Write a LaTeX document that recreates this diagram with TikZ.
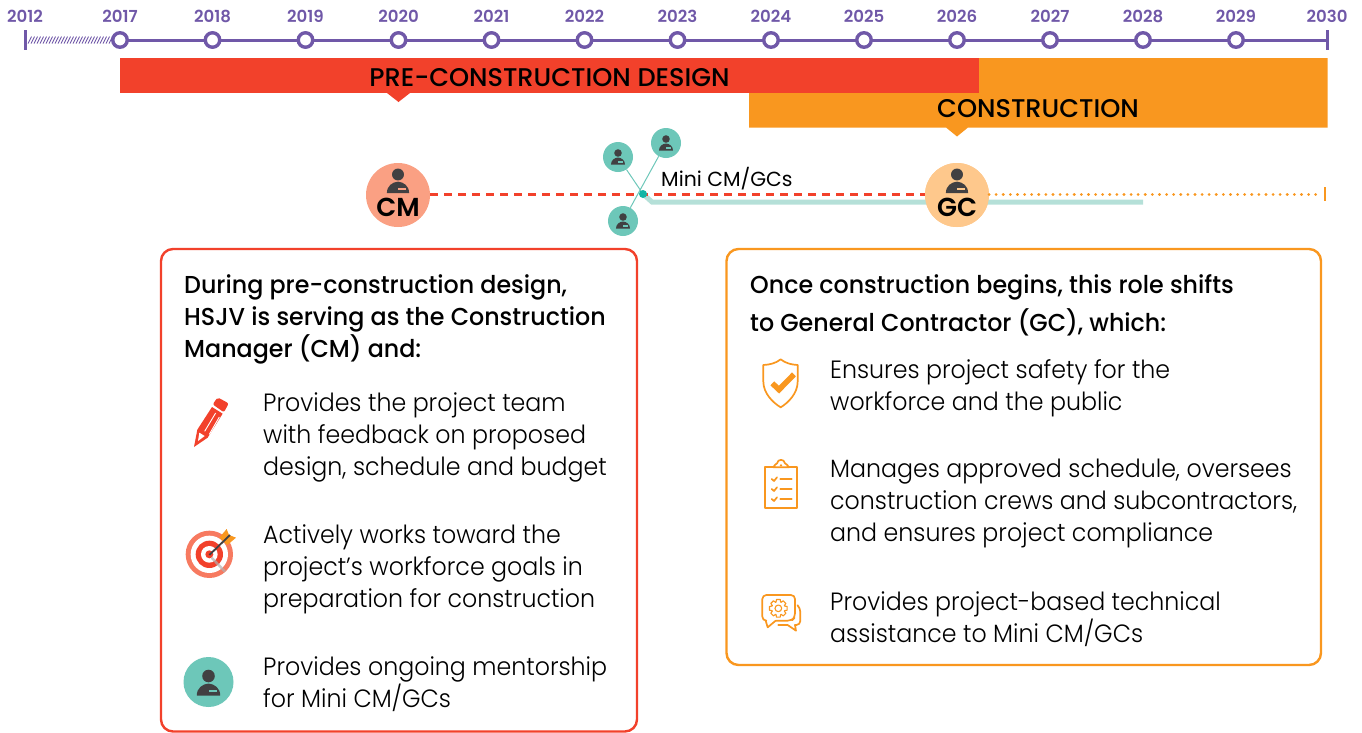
\documentclass[tikz,border=0pt]{standalone}
\usepackage{fontspec}
\setmainfont{Poppins Light}[BoldFont={Poppins Medium}]
\newfontfamily\yearfont{Poppins SemiBold}
\newfontfamily\barfont{Poppins Medium}
\newfontfamily\bodyfont[FakeStretch=0.948]{Poppins Light}
\newfontfamily\headfont[FakeStretch=0.97]{Poppins Medium}
\newfontfamily\minifont{Poppins}
\usetikzlibrary{calc}
\definecolor{tlpurple}{HTML}{7058A8}
\definecolor{redbar}{HTML}{F2412B}
\definecolor{orangebar}{HTML}{F9971F}
\definecolor{cmfill}{HTML}{FAA083}
\definecolor{gcfill}{HTML}{FEC88C}
\definecolor{tealc}{HTML}{6DC7B9}
\definecolor{tealbar}{HTML}{B5E0D8}
\definecolor{hubteal}{HTML}{12B5A5}
\definecolor{darkp}{HTML}{414042}
\tikzset{
  ring/.style={circle,draw=tlpurple,line width=3.4pt,fill=white,minimum size=14.5pt,inner sep=0},
  yearlabel/.style={font=\yearfont\fontsize{16.6}{16.6}\selectfont,text=tlpurple,anchor=center,inner sep=0},
  tline/.style={draw=tlpurple,line width=3pt},
  barlabel/.style={font=\barfont\fontsize{25.6}{25.6}\selectfont,text=black,anchor=center,inner sep=0},
  rolecirc/.style={circle,minimum size=64pt,inner sep=0},
  minicirc/.style={circle,fill=tealc,minimum size=30pt,inner sep=0},
  rolelabel/.style={font=\yearfont\fontsize{26}{26}\selectfont,text=black,inner sep=0,anchor=center},
  panel/.style={rounded corners=12pt,line width=2.4pt,fill=white},
  headtext/.style={anchor=north west,inner sep=0,align=left,font=\headfont\fontsize{24.5}{32}\selectfont,text=black},
  bodytext/.style={anchor=north west,inner sep=0,align=left,font=\bodyfont\fontsize{25}{32}\selectfont,text=black},
  iconline/.style={draw=orangebar,line width=1.7pt,line join=round,line cap=round},
  zoomthird/.style={scale=0.3333}
}
\newcommand{\personicon}[4]{%
  \begin{scope}[shift={(#1,#2)},scale=#3]
    \fill[darkp] (0,0) circle[radius=6.3];
    \fill[darkp] (-11.7,19.5) .. controls (-11.7,12) and (-6,8) .. (0,7.5) .. controls (6,8) and (11.7,12) .. (11.7,19.5) -- cycle;
    \fill[#4] (0,14) rectangle (8,16);
  \end{scope}}
\begin{document}
\begin{tikzpicture}[x=1pt,y=-1pt]
\useasboundingbox (0,0) rectangle (1362,732);
% bars
\fill[orangebar] (749,93) -- (979,93) -- (979,58) -- (1327.5,58) -- (1327.5,127.5) -- (968,127.5) -- (957,136.5) -- (946,127.5) -- (749,127.5) -- cycle;
\fill[redbar] (119.5,58) rectangle (979,93);
\fill[redbar] (387,93) -- (398.5,102) -- (410,93) -- cycle;
\node[barlabel] (predesign) at (549.5,77.5) {PRE-CONSTRUCTION DESIGN};
\node[barlabel] (constr) at (1038,108.5) {CONSTRUCTION};
% timeline
\coordinate (tstart) at (25,40);
\coordinate (tend) at (1327,40);
\coordinate (hatchend) at (112,40);
\foreach \xx in {28,31,...,109}{\draw[tlpurple,line width=0.9pt] (\xx,43.5) -- (\xx+3.5,36.5);}
\draw[tlpurple,line width=3pt] (25,30) -- (25,50);
\draw[tlpurple,line width=3pt] (1327,30) -- (1327,50);
\draw[tline] (120,40) -- (tend);
\foreach \yr/\xx in {2017/120,2018/212.5,2019/305.5,2020/398.5,2021/491.5,2022/584.5,2023/677.5,2024/771,2025/864,2026/957,2027/1050,2028/1143,2029/1236}{
  \node[ring] (t\yr) at (\xx,40) {};
  \node[yearlabel] (y\yr) at (\xx,16) {\yr};
}
\node[yearlabel] (y2012) at (25,16) {2012};
\node[yearlabel] (y2030) at (1327,16) {2030};
% role lines
\node[rolecirc,fill=cmfill] (cm) at (398,195) {};
\node[rolecirc,fill=gcfill] (gc) at (957,195) {};
\coordinate (hub) at (643,194);
\coordinate (tb1) at (652,202);
\coordinate (tb2) at (1143,202);
\coordinate (dotend) at (1322,194);
\coordinate (gcr) at (989,194);
\coordinate (etick1) at (1325,187);
\coordinate (etick2) at (1325,201);
\node[minicirc] (m1) at (618,157) {};
\node[minicirc] (m2) at (666,143) {};
\node[minicirc] (m3) at (623,221) {};
\draw[tealc,line width=1pt] (m1) -- (hub);
\draw[tealc,line width=1pt] (m2) -- (m3);
\draw[tealbar,line width=5pt,line join=miter] (hub) -- (tb1) -- (tb2);
\draw[redbar,line width=3pt,dash pattern=on 8pt off 6pt] (cm.east |- hub) -- (hub) -- (gc.west |- hub);
\fill[hubteal] (hub) circle[radius=4];
\node[circle,fill=gcfill,minimum size=64pt,inner sep=0] at (gc) {};
\draw[orangebar,line width=3pt,line cap=round,dash pattern=on 0.1pt off 7pt] (gcr) -- (dotend);
\draw[orangebar,line width=2.8pt] (etick1) -- (etick2);
\personicon{398}{174.5}{0.95}{cmfill}
\personicon{957}{174.5}{0.95}{gcfill}
\personicon{618}{153}{0.6}{tealc}
\personicon{666}{139}{0.6}{tealc}
\personicon{623}{217}{0.6}{tealc}
\node[rolelabel] (cmt) at (398,207) {CM};
\node[rolelabel] (gct) at (957,207) {GC};
\node[anchor=base west,inner sep=0,font=\minifont\fontsize{20.4}{20.4}\selectfont,text=black] (minilab) at (661,186) {Mini CM/GCs};
% panels
\draw[panel,draw=redbar] (161,249) rectangle (637,731.5);
\draw[panel,draw=orangebar] (726.5,249) rectangle (1321,665);
\node[headtext] (h1) at (184,274) {During pre-construction design,\\HSJV is serving as the Construction\\Manager (CM) and:};
\node[headtext,font=\headfont\fontsize{24.5}{38}\selectfont] (h2) at (750,274) {Once construction begins, this role shifts\\to General Contractor (GC), which:};
\node[bodytext] (a1) at (263,392) {Provides the project team\\with feedback on proposed\\design, schedule and budget};
\node[bodytext] (a2) at (263,524) {Actively works toward the\\project’s workforce goals in\\preparation for construction};
\node[bodytext] (a3) at (263,656) {Provides ongoing mentorship\\for Mini CM/GCs};
\node[bodytext] (b1) at (830,359) {Ensures project safety for the\\workforce and the public};
\node[bodytext] (b2) at (830,459) {Manages approved schedule, oversees\\construction crews and subcontractors,\\and ensures project compliance};
\node[bodytext] (b3) at (830,591) {Provides project-based technical\\assistance to Mini CM/GCs};
% pencil
\begin{scope}[shift={(170,385)},zoomthird]
  \fill[redbar,rounded corners=2pt] (128,58) -- (143,37) -- (176,55) -- (162,82) -- cycle;
  \fill[redbar] (72,186) -- (82,134) -- (126,66) -- (158,86) -- (113,158) -- cycle;
  \draw[white,line width=0.9pt] (104,139) -- (137,84);
  \draw[white,line width=0.9pt] (118,148) -- (148,96);
  \fill[white] (84,168) -- (88,143) -- (104,153) -- cycle;
\end{scope}
% target
\begin{scope}[shift={(170,515)},zoomthird]
  \fill[cmfill!60!redbar] (118,118) circle[radius=71];
  \fill[white] (118,118) circle[radius=56];
  \fill[redbar] (118,118) circle[radius=41];
  \fill[white] (118,118) circle[radius=25];
  \fill[redbar] (118,118) circle[radius=12];
  \draw[gray!60,line width=2.5pt,opacity=0.7] (125,128) -- (165,170);
  \fill[orangebar] (148,68) -- (170,42) -- (177,60) -- (198,68) -- (172,90) -- cycle;
  \draw[darkp,line width=1.8pt] (118,120) -- (180,60);
\end{scope}
% teal person icon
\node[circle,fill=tealc,minimum size=50pt,inner sep=0] (pa3) at (208.5,682) {};
\personicon{208.5}{676}{1}{tealc}
% shield
\begin{scope}[shift={(745,350)},zoomthird]
  \draw[iconline] (107,28) .. controls (122,40) and (140,44) .. (158,45) -- (158,95) .. controls (158,130) and (130,158) .. (107,172) .. controls (84,158) and (55,130) .. (55,95) -- (55,45) .. controls (74,44) and (92,40) .. (107,28) -- cycle;
  \draw[orangebar,line width=5.5pt,line join=miter] (82,100) -- (102,119) -- (147,73);
\end{scope}
% clipboard
\begin{scope}[shift={(745,450)},zoomthird]
  \draw[iconline] (85,52) -- (60,52) -- (60,175) -- (157,175) -- (157,52) -- (132,52);
  \draw[iconline] (85,52) .. controls (85,44) and (95,44) .. (96,40) .. controls (98,26) and (118,26) .. (120,40) .. controls (121,44) and (132,44) .. (132,52) -- cycle;
  \fill[orangebar] (108,46) circle[radius=4];
  \foreach \yy in {87,117,147}{
    \draw[iconline] (80,\yy) -- (87,\yy+6) -- (96,\yy-5);
    \draw[iconline] (106,\yy) -- (140,\yy);
  }
\end{scope}
% chat and gear
\begin{scope}[shift={(745,580)},zoomthird]
  \draw[iconline,rounded corners=4pt] (92,122) -- (140,122) -- (150,112) -- (150,45) -- (52,45) -- (52,122) -- (62,122);
  \draw[iconline] (62,122) -- (68,142) -- (92,122);
  \draw[iconline,rounded corners=4pt] (158,76) -- (166,84) -- (166,135) -- (150,135);
  \draw[iconline] (150,135) -- (153,152) -- (128,135) -- (100,135);
  \begin{scope}[shift={(100,85)}]
    \draw[iconline,line width=1.1pt] (-12:27) \foreach \a in {0,45,...,315}{ -- (\a-12:27) -- (\a+12:27) -- (\a+20:20) -- (\a+25:20)} -- cycle;
    \draw[iconline,line width=1.1pt] (0,0) circle[radius=10];
  \end{scope}
\end{scope}
\end{tikzpicture}
\end{document}
